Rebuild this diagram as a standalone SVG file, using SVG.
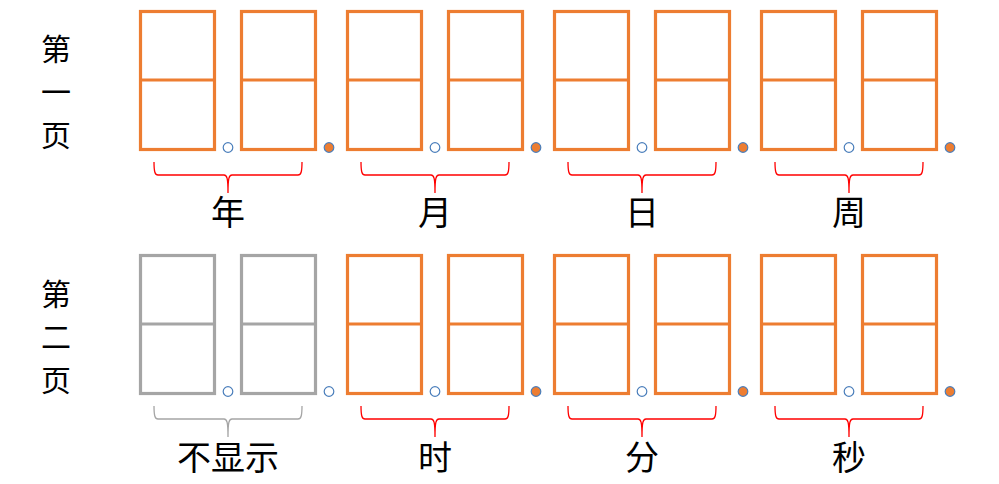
<svg xmlns="http://www.w3.org/2000/svg" width="999" height="484" viewBox="0 0 999 484">
<style>
.d{fill:none;stroke:#ED7D31;stroke-width:3.2}
.g{fill:none;stroke:#A5A5A5;stroke-width:3.2}
.o{fill:#fff;stroke:#4A7EBB;stroke-width:1.2}
.f{fill:#ED7D31;stroke:#4A7EBB;stroke-width:1.2}
.br{fill:none;stroke:#FF0000;stroke-width:1.3}
.bg{fill:none;stroke:#A5A5A5;stroke-width:1.3}
text{font-family:"Noto Sans CJK SC","Noto Sans CJK JP",sans-serif;font-size:34px;fill:#000;text-anchor:middle}
text.v{font-size:30px}
</style>
<defs>
<g id="digit"><rect x="0" y="0" width="74" height="138"/><line x1="0" y1="68.5" x2="74" y2="68.5"/></g>
<path id="brace" d="M0,0 C0,10 1,13 4,13 L70,13 C73,13 74,16 74,31 C74,16 75,13 78,13 L144,13 C147,13 148,10 148,0"/>
</defs>
<g id="page1-label"><text class="v" x="56" y="60">第</text><text class="v" x="56" y="103">一</text><text class="v" x="56" y="146">页</text></g>
<g id="page2-label"><text class="v" x="56" y="305">第</text><text class="v" x="56" y="348">二</text><text class="v" x="56" y="391">页</text></g>
<g id="year"><use href="#digit" class="d" x="140.5" y="11.5"/><circle class="o" cx="228" cy="147.5" r="4.8"/><use href="#digit" class="d" x="241.5" y="11.5"/><circle class="f" cx="329" cy="147.5" r="4.8"/></g>
<g id="month"><use href="#digit" class="d" x="347.5" y="11.5"/><circle class="o" cx="435" cy="147.5" r="4.8"/><use href="#digit" class="d" x="448.5" y="11.5"/><circle class="f" cx="536" cy="147.5" r="4.8"/></g>
<g id="day"><use href="#digit" class="d" x="554.5" y="11.5"/><circle class="o" cx="642" cy="147.5" r="4.8"/><use href="#digit" class="d" x="655.5" y="11.5"/><circle class="f" cx="743" cy="147.5" r="4.8"/></g>
<g id="week"><use href="#digit" class="d" x="761.5" y="11.5"/><circle class="o" cx="849" cy="147.5" r="4.8"/><use href="#digit" class="d" x="862.5" y="11.5"/><circle class="f" cx="950" cy="147.5" r="4.8"/></g>
<g id="hidden"><use href="#digit" class="g" x="140.5" y="255.5"/><circle class="o" cx="228" cy="391.5" r="4.8"/><use href="#digit" class="g" x="241.5" y="255.5"/><circle class="o" cx="329" cy="391.5" r="4.8"/></g>
<g id="hour"><use href="#digit" class="d" x="347.5" y="255.5"/><circle class="o" cx="435" cy="391.5" r="4.8"/><use href="#digit" class="d" x="448.5" y="255.5"/><circle class="f" cx="536" cy="391.5" r="4.8"/></g>
<g id="minute"><use href="#digit" class="d" x="554.5" y="255.5"/><circle class="o" cx="642" cy="391.5" r="4.8"/><use href="#digit" class="d" x="655.5" y="255.5"/><circle class="f" cx="743" cy="391.5" r="4.8"/></g>
<g id="second"><use href="#digit" class="d" x="761.5" y="255.5"/><circle class="o" cx="849" cy="391.5" r="4.8"/><use href="#digit" class="d" x="862.5" y="255.5"/><circle class="f" cx="950" cy="391.5" r="4.8"/></g>
<g id="connectors">
<use href="#brace" class="br" x="154" y="162"/>
<use href="#brace" class="br" x="361" y="162"/>
<use href="#brace" class="br" x="568" y="162"/>
<use href="#brace" class="br" x="775" y="162"/>
<use href="#brace" class="bg" x="154" y="406"/>
<use href="#brace" class="br" x="361" y="406"/>
<use href="#brace" class="br" x="568" y="406"/>
<use href="#brace" class="br" x="775" y="406"/>
</g>
<g id="labels">
<text x="228" y="225">年</text><text x="435" y="225">月</text><text x="642" y="225">日</text><text x="849" y="225">周</text>
<text x="228" y="470">不显示</text><text x="435" y="470">时</text><text x="642" y="470">分</text><text x="849" y="470">秒</text>
</g>
</svg>
